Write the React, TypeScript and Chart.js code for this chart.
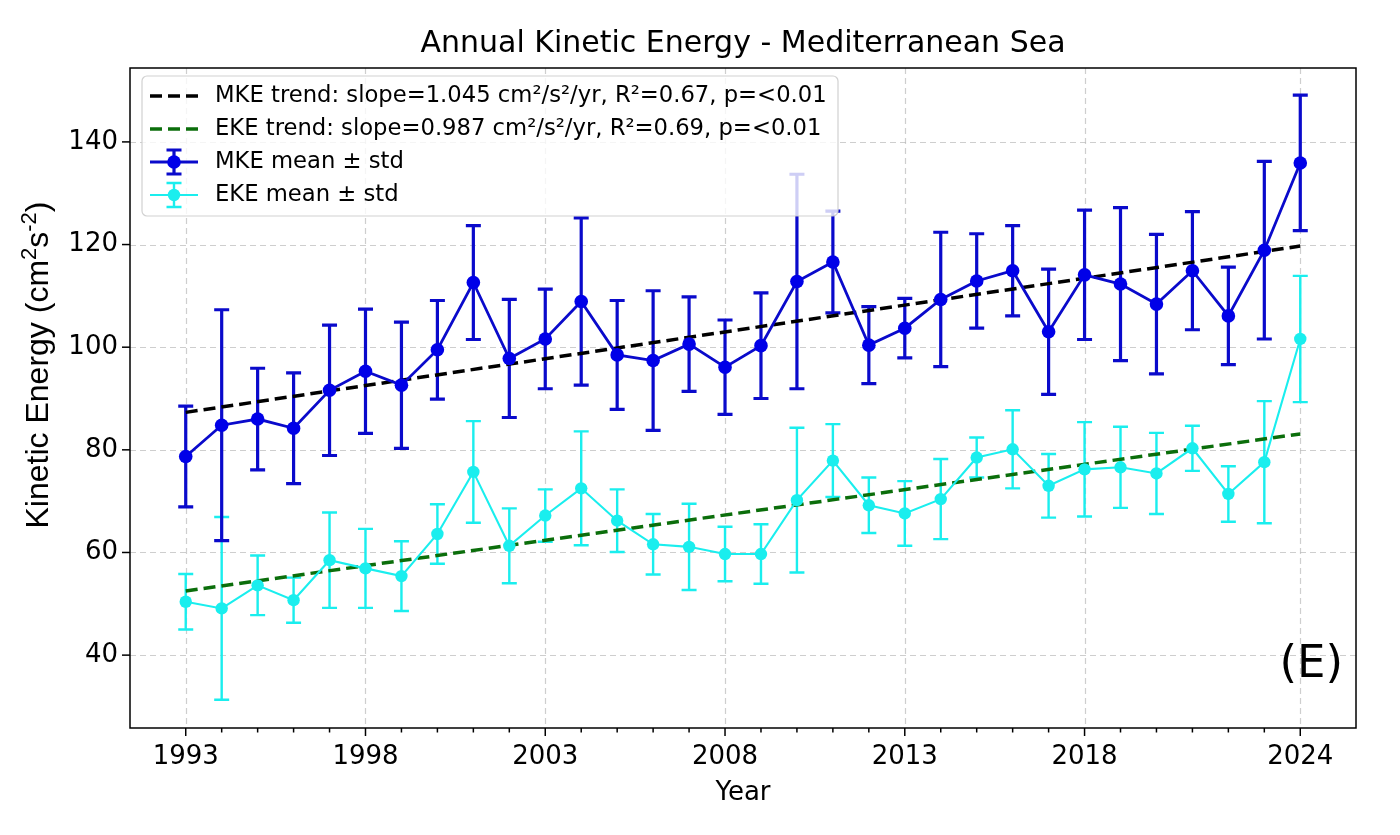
import { useEffect, useRef } from "react";
import { Chart, registerables } from "chart.js";

Chart.register(...registerables);

// Annual means and standard deviations, 1993–2024
const years = [
  1993, 1994, 1995, 1996, 1997, 1998, 1999, 2000, 2001, 2002, 2003, 2004, 2005, 2006, 2007, 2008,
  2009, 2010, 2011, 2012, 2013, 2014, 2015, 2016, 2017, 2018, 2019, 2020, 2021, 2022, 2023, 2024,
];
const mkeMean = [
  78.7, 84.8, 86.0, 84.2, 91.6, 95.3, 92.6, 99.5, 112.6, 97.8, 101.6, 108.9, 98.5, 97.4, 100.6, 96.1,
  100.3, 112.8, 116.6, 100.4, 103.7, 109.3, 112.9, 114.9, 103.0, 114.1, 112.3, 108.4, 114.9, 106.1, 118.9, 135.9,
];
const mkeStd = [
  9.8, 22.5, 9.9, 10.8, 12.7, 12.1, 12.3, 9.6, 11.1, 11.5, 9.7, 16.3, 10.6, 13.6, 9.2, 9.2,
  10.3, 20.9, 9.9, 7.5, 5.8, 13.1, 9.2, 8.8, 12.2, 12.6, 14.9, 13.6, 11.5, 9.5, 17.3, 13.2,
];
const ekeMean = [
  50.4, 49.1, 53.6, 50.7, 58.5, 56.9, 55.4, 63.6, 75.7, 61.3, 67.2, 72.5, 66.2, 61.6, 61.1, 59.7,
  59.7, 70.2, 77.9, 69.2, 67.6, 70.4, 78.5, 80.1, 73.0, 76.2, 76.6, 75.4, 80.3, 71.4, 77.6, 101.6,
];
const ekeStd = [
  5.4, 17.8, 5.8, 4.4, 9.3, 7.7, 6.8, 5.8, 9.9, 7.3, 5.1, 11.1, 6.1, 5.9, 8.4, 5.3,
  5.8, 14.1, 7.1, 5.4, 6.3, 7.8, 3.9, 7.6, 6.2, 9.2, 7.9, 7.9, 4.4, 5.4, 11.9, 12.3,
];

// Linear trend end points (first and last year)
const trendYears = [1993, 2024];
const mkeTrend = [87.3, 119.7];
const ekeTrend = [52.5, 83.1];

const majorYears = [1993, 1998, 2003, 2008, 2013, 2018, 2024];
const yTicks = [40, 60, 80, 100, 120, 140];

const titleText = "Annual Kinetic Energy - Mediterranean Sea";
const xTitle = "Year";
const panelTag = "(E)";
const legendLabels = [
  "MKE trend: slope=1.045 cm²/s²/yr, R²=0.67, p=<0.01",
  "EKE trend: slope=0.987 cm²/s²/yr, R²=0.69, p=<0.01",
  "MKE mean ± std",
  "EKE mean ± std",
];

const MKE_LINE = "#0a0acb";
const MKE_MARK = "#0000e8";
const EKE_COLOR = "#1aeeee";
const GREEN = "#0b6e0b";
const FONT = "'DejaVu Sans', sans-serif";

const toXY = (xs: number[], ys: number[]) => xs.map((x, i) => ({ x, y: ys[i] }));

const decorPlugin = {
  id: "decor",
  beforeDatasetsDraw(chart: any) {
    const { ctx, chartArea: a, scales } = chart;
    const xs = scales.x;
    const ys = scales.y;
    ctx.save();
    // dashed grid
    ctx.strokeStyle = "rgba(185,185,185,0.7)";
    ctx.lineWidth = 1.2;
    ctx.setLineDash([6, 4]);
    for (const yr of majorYears) {
      const px = Math.round(xs.getPixelForValue(yr)) + 0.5;
      ctx.beginPath();
      ctx.moveTo(px, a.top);
      ctx.lineTo(px, a.bottom);
      ctx.stroke();
    }
    for (const v of yTicks) {
      const py = Math.round(ys.getPixelForValue(v)) + 0.5;
      ctx.beginPath();
      ctx.moveTo(a.left, py);
      ctx.lineTo(a.right, py);
      ctx.stroke();
    }
    ctx.setLineDash([]);

    // error bars with caps
    const drawErr = (means: number[], stds: number[], color: string, lw: number, capW: number) => {
      ctx.strokeStyle = color;
      ctx.lineWidth = lw;
      years.forEach((yr, i) => {
        const px = xs.getPixelForValue(yr);
        const top = ys.getPixelForValue(means[i] + stds[i]);
        const bot = ys.getPixelForValue(means[i] - stds[i]);
        ctx.beginPath();
        ctx.moveTo(px, top);
        ctx.lineTo(px, bot);
        ctx.moveTo(px - capW, top);
        ctx.lineTo(px + capW, top);
        ctx.moveTo(px - capW, bot);
        ctx.lineTo(px + capW, bot);
        ctx.stroke();
      });
    };
    drawErr(ekeMean, ekeStd, EKE_COLOR, 2.4, 7.5);
    drawErr(mkeMean, mkeStd, MKE_LINE, 3.2, 7.5);
    ctx.restore();
  },
  afterDatasetsDraw(chart: any) {
    const { ctx, chartArea: a, scales } = chart;
    const xs = scales.x;
    const ys = scales.y;
    ctx.save();

    // frame
    ctx.strokeStyle = "#000";
    ctx.lineWidth = 1.5;
    ctx.strokeRect(a.left, a.top, a.right - a.left, a.bottom - a.top);

    // tick marks
    ctx.lineWidth = 1.5;
    for (const yr of years) {
      const px = xs.getPixelForValue(yr);
      const len = majorYears.includes(yr) ? 8 : 4.5;
      ctx.beginPath();
      ctx.moveTo(px, a.bottom);
      ctx.lineTo(px, a.bottom + len);
      ctx.stroke();
    }
    for (const v of yTicks) {
      const py = ys.getPixelForValue(v);
      ctx.beginPath();
      ctx.moveTo(a.left - 8, py);
      ctx.lineTo(a.left, py);
      ctx.stroke();
    }

    // legend
    const lx = 142, ly = 76, lw = 696, lh = 140;
    ctx.beginPath();
    ctx.roundRect(lx, ly, lw, lh, 5);
    ctx.fillStyle = "rgba(255,255,255,0.8)";
    ctx.fill();
    ctx.strokeStyle = "rgba(204,204,204,0.9)";
    ctx.lineWidth = 1.2;
    ctx.stroke();

    const rows = [96, 129, 162, 195];
    const h0 = 150, h1 = 198, hc = 174;
    // trend handles
    ctx.lineWidth = 3.5;
    ctx.setLineDash([12, 6]);
    [["#000", rows[0]], [GREEN, rows[1]]].forEach(([c, y]: any) => {
      ctx.strokeStyle = c;
      ctx.beginPath();
      ctx.moveTo(h0, y);
      ctx.lineTo(h1, y);
      ctx.stroke();
    });
    ctx.setLineDash([]);
    // error-bar handles
    const eh = (y: number, line: string, mark: string, lwLine: number, lwBar: number, r: number) => {
      ctx.strokeStyle = line;
      ctx.lineWidth = lwLine;
      ctx.beginPath();
      ctx.moveTo(h0, y);
      ctx.lineTo(h1, y);
      ctx.stroke();
      ctx.lineWidth = lwBar;
      ctx.beginPath();
      ctx.moveTo(hc, y - 12);
      ctx.lineTo(hc, y + 12);
      ctx.moveTo(hc - 7.5, y - 12);
      ctx.lineTo(hc + 7.5, y - 12);
      ctx.moveTo(hc - 7.5, y + 12);
      ctx.lineTo(hc + 7.5, y + 12);
      ctx.stroke();
      ctx.fillStyle = mark;
      ctx.beginPath();
      ctx.arc(hc, y, r, 0, Math.PI * 2);
      ctx.fill();
    };
    eh(rows[2], MKE_LINE, MKE_MARK, 2.8, 3.2, 6.8);
    eh(rows[3], EKE_COLOR, EKE_COLOR, 2.1, 2.4, 6.2);

    ctx.fillStyle = "#000";
    ctx.font = `22.7px ${FONT}`;
    ctx.textBaseline = "middle";
    ctx.textAlign = "left";
    legendLabels.forEach((t, i) => ctx.fillText(t, 215, rows[i]));

    // panel tag
    ctx.font = `45px ${FONT}`;
    ctx.textAlign = "right";
    ctx.textBaseline = "middle";
    ctx.fillText(panelTag, 1343, 665);

    // title
    ctx.font = `30px ${FONT}`;
    ctx.textAlign = "center";
    ctx.fillText(titleText, (a.left + a.right) / 2, 44);

    // x axis title
    ctx.font = `26px ${FONT}`;
    ctx.fillText(xTitle, (a.left + a.right) / 2, 793);

    // y axis title with superscripts
    ctx.translate(37, 365);
    ctx.rotate(-Math.PI / 2);
    const big = `32px 'Liberation Sans', Arial, sans-serif`;
    const small = `22px 'Liberation Sans', Arial, sans-serif`;
    const parts: [string, boolean][] = [
      ["Kinetic Energy (cm", false],
      ["2", true],
      ["s", false],
      ["-2", true],
      [")", false],
    ];
    let total = 0;
    for (const [t, sup] of parts) {
      ctx.font = sup ? small : big;
      total += ctx.measureText(t).width;
    }
    let cx = -total / 2;
    ctx.textAlign = "left";
    ctx.textBaseline = "alphabetic";
    for (const [t, sup] of parts) {
      ctx.font = sup ? small : big;
      ctx.fillText(t, cx, sup ? -1 : 11);
      cx += ctx.measureText(t).width;
    }
    ctx.restore();
  },
};

export default function App() {
  const ref = useRef<HTMLCanvasElement | null>(null);

  useEffect(() => {
    document.body.style.margin = "0";
    if (!ref.current) return;
    const chart = new Chart(ref.current, {
      type: "line",
      data: {
        datasets: [
          {
            label: "MKE trend",
            data: toXY(trendYears, mkeTrend),
            borderColor: "#000",
            borderWidth: 3.5,
            borderDash: [12, 6],
            pointRadius: 0,
            order: 4,
          },
          {
            label: "EKE trend",
            data: toXY(trendYears, ekeTrend),
            borderColor: GREEN,
            borderWidth: 3.5,
            borderDash: [12, 6],
            pointRadius: 0,
            order: 3,
          },
          {
            label: "EKE mean ± std",
            data: toXY(years, ekeMean),
            borderColor: EKE_COLOR,
            borderWidth: 2.1,
            pointRadius: 6.2,
            pointBackgroundColor: EKE_COLOR,
            pointBorderWidth: 0,
            order: 2,
          },
          {
            label: "MKE mean ± std",
            data: toXY(years, mkeMean),
            borderColor: MKE_LINE,
            borderWidth: 2.8,
            pointRadius: 6.8,
            pointBackgroundColor: MKE_MARK,
            pointBorderWidth: 0,
            order: 1,
          },
        ],
      },
      options: {
        responsive: false,
        animation: false,
        devicePixelRatio: 1,
        events: [],
        layout: { padding: { top: 68, right: 44, bottom: 0, left: 0 } },
        plugins: {
          legend: { display: false },
          title: { display: false },
          tooltip: { enabled: false },
        },
        scales: {
          x: {
            type: "linear",
            min: 1991.45,
            max: 2025.55,
            afterBuildTicks: (s: any) => {
              s.ticks = years.map((v) => ({ value: v }));
            },
            afterFit: (s: any) => {
              s.height = 107;
            },
            grid: { display: false, drawTicks: false },
            border: { display: false },
            ticks: {
              autoSkip: false,
              maxRotation: 0,
              minRotation: 0,
              padding: 14,
              color: "#000",
              font: { family: "DejaVu Sans", size: 26 },
              callback: (v: any) => (majorYears.includes(Number(v)) ? String(v) : ""),
            },
          },
          y: {
            type: "linear",
            min: 25.8,
            max: 154.4,
            afterBuildTicks: (s: any) => {
              s.ticks = yTicks.map((v) => ({ value: v }));
            },
            afterFit: (s: any) => {
              s.width = 130;
            },
            grid: { display: false, drawTicks: false },
            border: { display: false },
            ticks: {
              padding: 12,
              color: "#000",
              font: { family: "DejaVu Sans", size: 26 },
              callback: (v: any) => String(v),
            },
          },
        },
      },
      plugins: [decorPlugin],
    });
    return () => chart.destroy();
  }, []);

  return (
    <div style={{ width: 1400, height: 835, background: "#fff" }}>
      <canvas ref={ref} width={1400} height={835} style={{ display: "block" }} />
    </div>
  );
}
